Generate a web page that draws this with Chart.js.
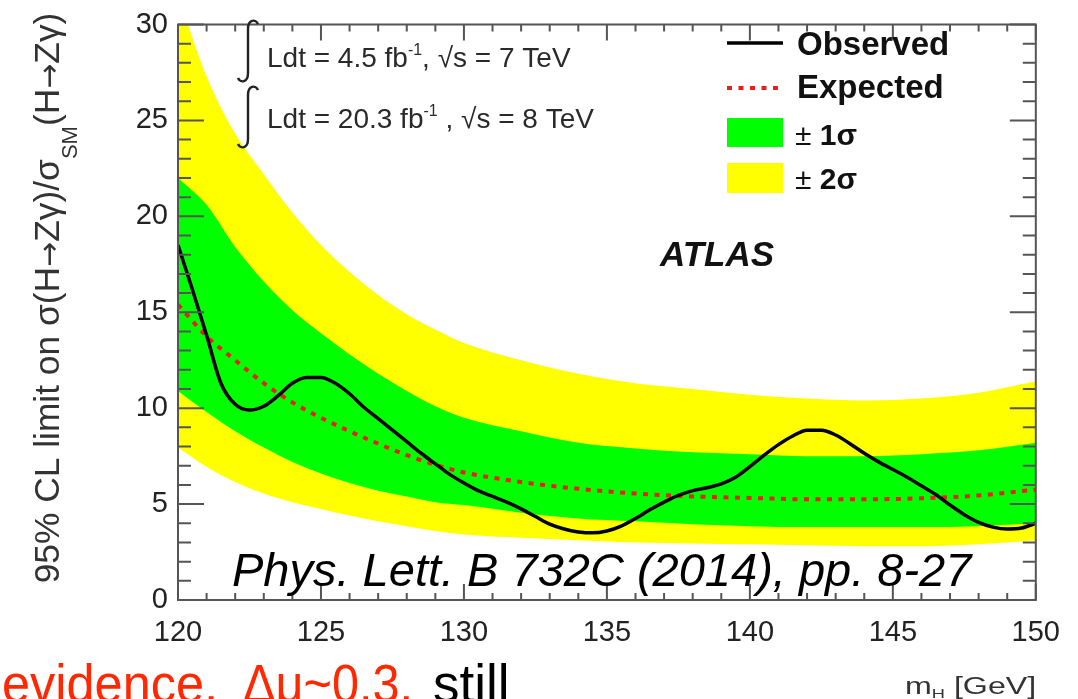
<!DOCTYPE html>
<html>
<head>
<meta charset="utf-8">
<script src="https://cdn.jsdelivr.net/npm/chart.js@4.4.1/dist/chart.umd.min.js"></script>
<style>
  html, body { margin: 0; padding: 0; background: #fff; }
  canvas { display: block; }
</style>
</head>
<body>
<canvas id="limitChart" width="1078" height="699"></canvas>
<script>
'use strict';
const FONT = '"Liberation Sans", "DejaVu Sans", Arial, Helvetica, sans-serif';
const YELLOW = 'rgb(255,255,0)';
const GREEN = 'rgb(0,255,0)';
const RED = 'rgb(232,32,28)';

// expected limit and its 1σ / 2σ bands, sampled in m_H [GeV]
const bandMass    = [120, 121, 122, 123, 124, 125, 126, 127, 128, 129, 130, 132, 134, 136, 138, 140, 142, 144, 146, 148, 150];
const expected    = [15.4, 13.75, 12.5, 11.3, 10.3, 9.5, 8.8, 8.15, 7.55, 7.05, 6.65, 6.15, 5.8, 5.55, 5.4, 5.32, 5.25, 5.25, 5.3, 5.45, 5.75];
const plus2sigma  = [31.5, 27.3, 24.3, 22.2, 20.2, 18.5, 17.1, 15.9, 14.9, 14.1, 13.4, 12.5, 11.8, 11.3, 11.0, 10.7, 10.5, 10.4, 10.5, 10.8, 11.4];
const plus1sigma  = [22.0, 20.6, 18.4, 16.6, 15.1, 13.9, 12.8, 11.8, 10.9, 10.1, 9.5, 8.8, 8.2, 7.9, 7.7, 7.6, 7.5, 7.5, 7.6, 7.8, 8.2];
const minus1sigma = [10.9, 9.8, 8.8, 7.95, 7.2, 6.6, 6.1, 5.7, 5.4, 5.1, 4.95, 4.55, 4.25, 4.1, 3.95, 3.85, 3.8, 3.8, 3.8, 3.85, 4.0];
const minus2sigma = [7.95, 6.95, 6.15, 5.55, 5.1, 4.75, 4.4, 4.1, 3.85, 3.6, 3.42, 3.25, 3.12, 3.0, 2.95, 2.9, 2.85, 2.8, 2.8, 2.9, 3.1];

// observed limit, finer mass steps
const obsMass = [120, 120.5, 121, 121.5, 122, 122.5, 123, 123.5, 124, 124.5, 125, 125.5, 126, 126.5, 127, 127.5,
  128, 128.5, 129, 129.5, 130, 130.5, 131, 131.5, 132, 132.5, 133, 133.5, 134, 134.5, 135, 135.5,
  136, 136.5, 137, 137.5, 138, 138.5, 139, 139.5, 140, 140.5, 141, 141.5, 142, 142.5, 143, 143.5,
  144, 144.5, 145, 145.5, 146, 146.5, 147, 147.5, 148, 148.5, 149, 149.5, 150];
const observed = [18.5, 16.2, 13.8, 11.3, 10.2, 9.9, 10.1, 10.65, 11.3, 11.6, 11.6, 11.3, 10.75, 10.05, 9.45, 8.85,
  8.25, 7.65, 7.1, 6.55, 6.1, 5.7, 5.4, 5.1, 4.75, 4.35, 3.95, 3.7, 3.55, 3.5, 3.6, 3.85,
  4.25, 4.7, 5.1, 5.45, 5.7, 5.85, 6.05, 6.4, 6.95, 7.55, 8.1, 8.55, 8.85, 8.85, 8.6, 8.15,
  7.65, 7.2, 6.8, 6.4, 5.95, 5.5, 4.95, 4.45, 4.05, 3.8, 3.7, 3.75, 4.0];

const xTicks = [120, 125, 130, 135, 140, 145, 150];
const yTicks = [0, 5, 10, 15, 20, 25, 30];

const pts = (xs, ys) => xs.map((x, i) => ({ x: x, y: ys[i] }));

const bandStyle = { borderWidth: 0, pointRadius: 0, cubicInterpolationMode: 'monotone' };

// draws text made of several runs (sub/superscripts, mixed weights)
function drawRuns(ctx, x, y, runs) {
  for (const r of runs) {
    ctx.font = r.font;
    ctx.fillStyle = r.color || '#222';
    ctx.fillText(r.t, x, y + (r.dy || 0));
    x += ctx.measureText(r.t).width;
  }
  return x;
}
function runsWidth(ctx, runs) {
  let w = 0;
  for (const r of runs) { ctx.font = r.font; w += ctx.measureText(r.t).width; }
  return w;
}

// ROOT style frame: box with inward major/minor ticks on all four sides
const framePlugin = {
  id: 'frame',
  afterDatasetsDraw(chart) {
    const { ctx, chartArea: a, scales: { x, y } } = chart;
    ctx.save();
    ctx.strokeStyle = '#555';
    ctx.lineWidth = 2;
    ctx.strokeRect(a.left, a.top, a.right - a.left, a.bottom - a.top);
    ctx.beginPath();
    for (let v = x.min; v <= x.max; v++) {
      const px = x.getPixelForValue(v);
      const len = v % 5 === 0 ? 16 : 7;
      ctx.moveTo(px, a.bottom); ctx.lineTo(px, a.bottom - len);
      ctx.moveTo(px, a.top); ctx.lineTo(px, a.top + len);
    }
    for (let v = y.min; v <= y.max; v++) {
      const py = y.getPixelForValue(v);
      const len = v % 5 === 0 ? 26 : 13;
      ctx.moveTo(a.left, py); ctx.lineTo(a.left + len, py);
      ctx.moveTo(a.right, py); ctx.lineTo(a.right - len, py);
    }
    ctx.stroke();
    ctx.restore();
  }
};

const labelPlugin = {
  id: 'labels',
  afterDraw(chart) {
    const ctx = chart.ctx;
    ctx.save();
    ctx.textBaseline = 'alphabetic';
    ctx.textAlign = 'left';

    // rotated y-axis title; the arrow comes from DejaVu, which sets it tight
    const AF = '"DejaVu Sans", sans-serif';
    const title = s => {
      const f = s + 'px ' + FONT, a = Math.round(s * 0.85) + 'px ' + AF;
      return [
        { t: '95% CL limit on σ(H', font: f, color: '#333' },
        { t: '→', font: a, color: '#333' },
        { t: 'Zγ)/σ', font: f, color: '#333' },
        { t: 'SM', font: Math.round(s * 0.62) + 'px ' + FONT, color: '#333', dy: 18 },
        { t: '(H', font: f, color: '#333' },
        { t: '→', font: a, color: '#333' },
        { t: 'Zγ)', font: f, color: '#333' }
      ];
    };
    let fs = 33;
    fs = fs * 570 / runsWidth(ctx, title(fs));
    const tRuns = title(fs);
    ctx.save();
    ctx.translate(59, 298);
    ctx.rotate(-Math.PI / 2);
    drawRuns(ctx, -runsWidth(ctx, tRuns) / 2, 0, tRuns);
    ctx.restore();

    // luminosity / energy lines with integral signs
    ctx.strokeStyle = '#222';
    ctx.lineWidth = 2.4;
    [[20, 82], [86, 148]].forEach(([top, bot]) => {
      ctx.beginPath();
      ctx.moveTo(258, top + 4);
      ctx.bezierCurveTo(256, top - 1, 248, top - 1, 248, top + 9);
      ctx.lineTo(248, bot - 9);
      ctx.bezierCurveTo(248, bot + 1, 240, bot + 1, 238, bot - 4);
      ctx.stroke();
    });
    const lf = '28px ' + FONT, sf = '16px ' + FONT;
    drawRuns(ctx, 267, 67, [
      { t: 'Ldt = 4.5 fb', font: lf, color: '#2a2a2a' },
      { t: '-1', font: sf, color: '#2a2a2a', dy: -12 },
      { t: ', √s = 7 TeV', font: lf, color: '#2a2a2a' }
    ]);
    drawRuns(ctx, 267, 128, [
      { t: 'Ldt = 20.3 fb', font: lf, color: '#2a2a2a' },
      { t: '-1', font: sf, color: '#2a2a2a', dy: -12 },
      { t: ' , √s = 8 TeV', font: lf, color: '#2a2a2a' }
    ]);

    // experiment tag
    ctx.font = 'italic bold 35px ' + FONT;
    ctx.fillStyle = '#111';
    ctx.fillText('ATLAS', 660, 266);

    // legend
    ctx.lineWidth = 3.5;
    ctx.strokeStyle = '#000';
    ctx.beginPath(); ctx.moveTo(727, 43); ctx.lineTo(783, 43); ctx.stroke();
    ctx.strokeStyle = RED;
    ctx.lineWidth = 4;
    ctx.setLineDash([5, 6.5]);
    ctx.beginPath(); ctx.moveTo(727, 88); ctx.lineTo(783, 88); ctx.stroke();
    ctx.setLineDash([]);
    ctx.fillStyle = GREEN; ctx.fillRect(727, 118, 56, 29);
    ctx.fillStyle = YELLOW; ctx.fillRect(727, 163, 56, 30);
    const bf = 'bold 33px ' + FONT;
    drawRuns(ctx, 797, 55, [{ t: 'Observed', font: bf, color: '#111' }]);
    drawRuns(ctx, 797, 98, [{ t: 'Expected', font: bf, color: '#111' }]);
    drawRuns(ctx, 795, 145, [{ t: '± ', font: '30px ' + FONT, color: '#111' }, { t: '1σ', font: 'bold 30px ' + FONT, color: '#111' }]);
    drawRuns(ctx, 795, 189, [{ t: '± ', font: '30px ' + FONT, color: '#111' }, { t: '2σ', font: 'bold 30px ' + FONT, color: '#111' }]);

    // publication reference
    ctx.font = 'italic 47px ' + FONT;
    ctx.fillStyle = '#000';
    ctx.fillText('Phys. Lett. B 732C (2014), pp. 8-27', 232, 586);

    // x-axis title
    ctx.save();
    ctx.translate(905, 694);
    ctx.scale(1.4, 1);
    drawRuns(ctx, 0, 0, [
      { t: 'm', font: '23px ' + FONT, color: '#333' },
      { t: 'H', font: '13px ' + FONT, color: '#333', dy: 4 },
      { t: ' [GeV]', font: '23px ' + FONT, color: '#333' }
    ]);
    ctx.restore();

    // slide text running under the plot (narrower face than Liberation)
    ctx.font = '53px ' + FONT;
    ctx.fillStyle = 'rgb(255,40,0)';
    ctx.fillText('evidence,', 2, 702, 216);
    ctx.fillText('Δμ~0.3,', 243, 702, 170);
    ctx.fillStyle = '#000';
    ctx.fillText('still', 433, 702, 78);

    // top strip is cut off
    ctx.fillStyle = '#fff';
    ctx.fillRect(0, 0, chart.width, 12);
    ctx.restore();
  }
};

new Chart(document.getElementById('limitChart'), {
  type: 'line',
  data: {
    datasets: [
      Object.assign({ label: '± 2σ', data: pts(bandMass, plus2sigma), fill: '+1', backgroundColor: YELLOW, order: 4 }, bandStyle),
      Object.assign({ label: '-2σ', data: pts(bandMass, minus2sigma), fill: false, order: 4 }, bandStyle),
      Object.assign({ label: '± 1σ', data: pts(bandMass, plus1sigma), fill: '+1', backgroundColor: GREEN, order: 3 }, bandStyle),
      Object.assign({ label: '-1σ', data: pts(bandMass, minus1sigma), fill: false, order: 3 }, bandStyle),
      {
        label: 'Expected', data: pts(bandMass, expected), borderColor: RED, borderWidth: 4,
        borderDash: [5, 6.5], pointRadius: 0, fill: false, cubicInterpolationMode: 'monotone', order: 2
      },
      {
        label: 'Observed', data: pts(obsMass, observed), borderColor: '#000', borderWidth: 3.5,
        pointRadius: 0, fill: false, cubicInterpolationMode: 'monotone', order: 1
      }
    ]
  },
  options: {
    responsive: false,
    animation: false,
    events: [],
    layout: { padding: { top: 15, right: 36, left: 0, bottom: 0 } },
    plugins: { legend: { display: false }, tooltip: { enabled: false } },
    scales: {
      x: {
        type: 'linear', min: 120, max: 150,
        afterBuildTicks: s => { s.ticks = xTicks.map(v => ({ value: v })); },
        afterFit: s => { s.height = 99; },
        grid: { display: false, drawTicks: false },
        border: { display: false },
        ticks: { color: '#222', padding: 18, maxRotation: 0, autoSkip: false, font: { family: FONT, size: 29, lineHeight: 1 } }
      },
      y: {
        min: 0, max: 30,
        afterBuildTicks: s => { s.ticks = yTicks.map(v => ({ value: v })); },
        afterFit: s => { s.width = 178; },
        grid: { display: false, drawTicks: false },
        border: { display: false },
        ticks: { color: '#222', padding: 10, font: { family: FONT, size: 29, lineHeight: 1 } }
      }
    }
  },
  plugins: [framePlugin, labelPlugin]
});
</script>
</body>
</html>
